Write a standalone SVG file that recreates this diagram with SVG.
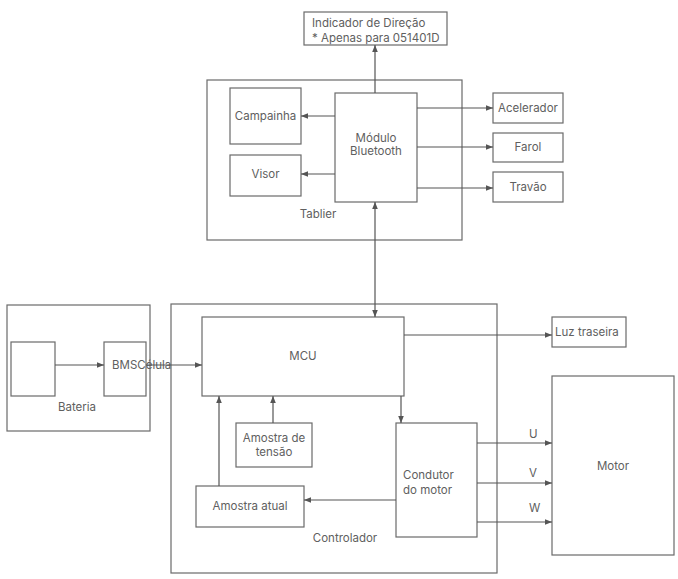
<svg xmlns="http://www.w3.org/2000/svg" width="678" height="579" viewBox="0 0 678 579">
<defs>
<style>
.b{fill:#fff;stroke:#6a6a6a;stroke-width:1.2}
.c{fill:none;stroke:#555;stroke-width:1.2}
text{font-family:Inter,"Liberation Sans",sans-serif;font-size:11.5px;fill:#606060}
.m{text-anchor:middle}
</style>
<marker id="a" viewBox="0 0 10 10" refX="10" refY="5" markerWidth="7" markerHeight="7" markerUnits="userSpaceOnUse" orient="auto-start-reverse">
<path d="M0,1 L10,5 L0,9 Z" fill="#555"/>
</marker>
</defs>
<rect width="678" height="579" fill="#fff"/>
<g id="tablier"><rect class="b" x="207" y="80" width="255" height="160"/><text class="m" x="318" y="218">Tablier</text></g>
<g id="bateria"><rect class="b" x="7" y="305" width="143" height="126"/><text class="m" x="77" y="411">Bateria</text></g>
<g id="controlador"><rect class="b" x="171" y="304" width="326" height="269"/><text class="m" x="345" y="542">Controlador</text></g>
<g id="indicador"><rect class="b" x="304" y="12" width="143" height="33"/><text x="312" y="27">Indicador de Direção</text><text x="312" y="42">* Apenas para 051401D</text></g>
<g id="campainha"><rect class="b" x="230" y="88" width="71" height="56"/><text class="m" x="265.5" y="120">Campainha</text></g>
<g id="visor"><rect class="b" x="230" y="155" width="71" height="41"/><text class="m" x="265.5" y="178">Visor</text></g>
<g id="bluetooth"><rect class="b" x="335" y="93" width="82" height="109"/><text class="m" x="376" y="142">Módulo</text><text class="m" x="376" y="155">Bluetooth</text></g>
<g id="acelerador"><rect class="b" x="493" y="93" width="70" height="30"/><text class="m" x="528" y="112">Acelerador</text></g>
<g id="farol"><rect class="b" x="493" y="133" width="70" height="29"/><text class="m" x="528" y="151">Farol</text></g>
<g id="travao"><rect class="b" x="493" y="172" width="70" height="30"/><text class="m" x="528" y="191">Travão</text></g>
<g id="celula"><rect class="b" x="11" y="342" width="44" height="54"/></g>
<g id="bms"><rect class="b" x="104" y="342" width="42" height="54"/><text x="112" y="369">BMSCélula</text></g>
<g id="mcu"><rect class="b" x="202" y="317" width="202" height="79"/><text class="m" x="303" y="360">MCU</text></g>
<g id="luz"><rect class="b" x="552" y="317" width="74" height="30"/><text x="555" y="336">Luz traseira</text></g>
<g id="tensao"><rect class="b" x="236" y="423" width="76" height="44"/><text class="m" x="274" y="442">Amostra de</text><text class="m" x="274" y="456">tensão</text></g>
<g id="atual"><rect class="b" x="196" y="486" width="108" height="41"/><text class="m" x="250" y="510">Amostra atual</text></g>
<g id="condutor"><rect class="b" x="396" y="423" width="81" height="114"/><text x="403" y="479">Condutor</text><text x="403" y="494">do motor</text></g>
<g id="motor"><rect class="b" x="552" y="376" width="122" height="179"/><text class="m" x="613" y="470">Motor</text></g>
<g id="connectors">
<line class="c" x1="375" y1="93" x2="375" y2="45" marker-end="url(#a)"/>
<line class="c" x1="335" y1="116" x2="301" y2="116" marker-end="url(#a)"/>
<line class="c" x1="335" y1="174" x2="301" y2="174" marker-end="url(#a)"/>
<line class="c" x1="417" y1="108" x2="493" y2="108" marker-end="url(#a)"/>
<line class="c" x1="417" y1="147" x2="493" y2="147" marker-end="url(#a)"/>
<line class="c" x1="417" y1="188" x2="493" y2="188" marker-end="url(#a)"/>
<line class="c" x1="375" y1="202" x2="375" y2="317" marker-start="url(#a)" marker-end="url(#a)"/>
<line class="c" x1="55" y1="365" x2="104" y2="365" marker-end="url(#a)"/>
<line class="c" x1="146" y1="365" x2="202" y2="365" marker-end="url(#a)"/>
<line class="c" x1="404" y1="335" x2="552" y2="335" marker-end="url(#a)"/>
<line class="c" x1="273" y1="423" x2="273" y2="396" marker-end="url(#a)"/>
<line class="c" x1="219" y1="486" x2="219" y2="396" marker-end="url(#a)"/>
<line class="c" x1="401" y1="396" x2="401" y2="423" marker-end="url(#a)"/>
<line class="c" x1="396" y1="500" x2="304" y2="500" marker-end="url(#a)"/>
<line class="c" x1="477" y1="443" x2="552" y2="443" marker-end="url(#a)"/>
<line class="c" x1="477" y1="483" x2="552" y2="483" marker-end="url(#a)"/>
<line class="c" x1="477" y1="522" x2="552" y2="522" marker-end="url(#a)"/>
<text x="529" y="438">U</text>
<text x="529" y="477">V</text>
<text x="529" y="512">W</text>
</g>
</svg>
